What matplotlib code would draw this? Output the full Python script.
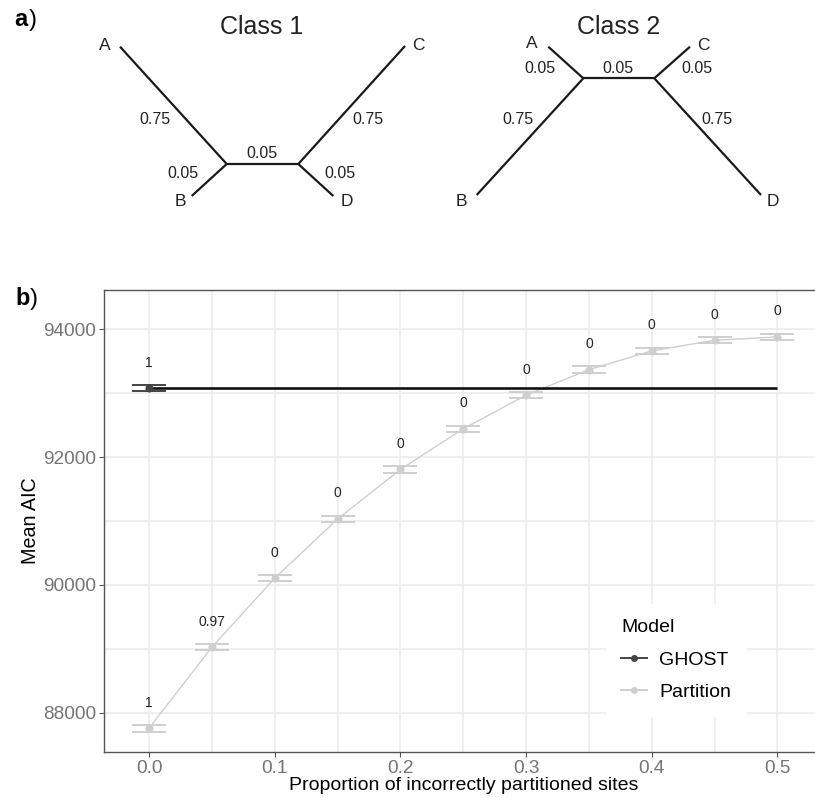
import matplotlib
matplotlib.use("Agg")
import matplotlib.pyplot as plt
from matplotlib.lines import Line2D
import numpy as np

plt.rcParams['font.family'] = ['Liberation Sans', 'DejaVu Sans']

# ---------------- data ----------------
proportions = [0.0, 0.05, 0.10, 0.15, 0.20, 0.25, 0.30, 0.35, 0.40, 0.45, 0.50]
partition_aic = [87756, 89027, 90105, 91031, 91806, 92442, 92969, 93369, 93661, 93828, 93880]
partition_se = [50, 50, 50, 50, 50, 50, 50, 50, 50, 50, 50]
partition_labels = ["1", "0.97", "0", "0", "0", "0", "0", "0", "0", "0", "0"]
ghost_x = [0.0]
ghost_aic = [93078]
ghost_se = [50]
ghost_labels = ["1"]
models = ["GHOST", "Partition"]
y_ticks = [88000, 90000, 92000, 94000]
x_ticks = [0.0, 0.1, 0.2, 0.3, 0.4, 0.5]

# tree topologies (tip/internal node layout in pixel space of panel a)
tree1_nodes = {"A": (120, 46.7), "B": (191.7, 196), "C": (405, 46), "D": (333.3, 196),
               "L": (226.7, 164), "R": (298.3, 164)}
tree2_nodes = {"A": (548.3, 46.7), "B": (476.7, 195), "C": (690, 46.7), "D": (761, 195),
               "L": (583.3, 78.3), "R": (654.3, 78.3)}
tree_edges = [("A", "L"), ("B", "L"), ("L", "R"), ("R", "C"), ("R", "D")]
tree1_lengths = ["0.75", "0.05", "0.05", "0.75", "0.05"]
tree2_lengths = ["0.05", "0.75", "0.05", "0.05", "0.75"]

W, H = 815, 798
fig = plt.figure(figsize=(W / 100, H / 100), dpi=100)

# ---------------- panel a (trees) ----------------
lay = fig.add_axes([0, 0, 1, 1])
lay.set_xlim(0, W)
lay.set_ylim(H, 0)
lay.axis("off")

tree_col = "#1a1a1a"
for nodes in (tree1_nodes, tree2_nodes):
    for a, b in tree_edges:
        lay.plot([nodes[a][0], nodes[b][0]], [nodes[a][1], nodes[b][1]],
                 color=tree_col, lw=1.6, solid_capstyle="butt")

tip_fs = 12.5
br_fs = 11.5
# Class 1 labels
lay.text(262, 27, "Class 1", fontsize=18, ha="center", va="center", color="#222222")
for t, (x, y) in {"A": (105, 45), "B": (180, 201.7), "C": (418, 45), "D": (346.7, 201.7)}.items():
    lay.text(x, y, t, fontsize=tip_fs, ha="center", va="center", color="#222222")
for lab, (x, y) in zip(tree1_lengths, [(155, 120), (183.3, 174), (261.7, 154), (368, 120), (340, 174)]):
    lay.text(x, y, lab, fontsize=br_fs, ha="center", va="center", color="#222222")
# Class 2 labels
lay.text(618.3, 27, "Class 2", fontsize=18, ha="center", va="center", color="#222222")
for t, (x, y) in {"A": (531.7, 43.3), "B": (461.7, 201.7), "C": (703.3, 45), "D": (773.3, 201.7)}.items():
    lay.text(x, y, t, fontsize=tip_fs, ha="center", va="center", color="#222222")
for lab, (x, y) in zip(tree2_lengths, [(540, 68.3), (518.3, 120), (618.3, 68.3), (696.7, 68.3), (717.3, 120)]):
    lay.text(x, y, lab, fontsize=br_fs, ha="center", va="center", color="#222222")

# panel letters
lay.text(14, 26, "a", fontsize=17, fontweight="bold", ha="left", va="baseline", color="black")
lay.text(28.5, 26, ")", fontsize=17, ha="left", va="baseline", color="black")
lay.text(15, 305, "b", fontsize=17, fontweight="bold", ha="left", va="baseline", color="black")
lay.text(30, 305, ")", fontsize=17, ha="left", va="baseline", color="black")

# ---------------- panel b ----------------
left_px, right_px, top_px, bot_px = 104, 823, 290, 752
ax = fig.add_axes([left_px / W, 1 - bot_px / H, (right_px - left_px) / W, (bot_px - top_px) / H])
ax.set_xlim(-0.0358, 0.5362)
ax.set_ylim(87386, 94614)

ax.set_xticks(x_ticks)
ax.set_xticklabels([f"{v:.1f}" for v in x_ticks])
ax.set_yticks(y_ticks)
ax.set_yticklabels([str(v) for v in y_ticks])
ax.set_xticks(np.arange(0.05, 0.55, 0.1), minor=True)
ax.set_yticks([89000, 91000, 93000], minor=True)
ax.grid(True, which="major", color="#ebebeb", lw=1.1)
ax.grid(True, which="minor", color="#ebebeb", lw=1.1)
ax.set_axisbelow(True)
ax.tick_params(which="minor", length=0)
ax.tick_params(which="major", length=3.5, width=0.8, color="#555555",
               labelsize=13.7, labelcolor="#747474", pad=2)
for s in ["left", "bottom", "top"]:
    ax.spines[s].set_color("#555555")
    ax.spines[s].set_linewidth(1.0)
ax.spines["right"].set_visible(False)

ghost_col = "#444444"
part_col = "#cfcfcf"

# partition series
ax.plot(proportions, partition_aic, color=part_col, lw=1.0, zorder=3)
ax.errorbar(proportions, partition_aic, yerr=partition_se, fmt="none", ecolor=part_col,
            elinewidth=1.4, capsize=12.5, capthick=1.4, zorder=3)
ax.plot(proportions, partition_aic, "o", color=part_col, ms=4.8, zorder=4)

# GHOST
ax.hlines(ghost_aic[0], proportions[0], proportions[-1], color="#111111", lw=1.9, zorder=5)
ax.errorbar(ghost_x, ghost_aic, yerr=ghost_se, fmt="none", ecolor=ghost_col,
            elinewidth=1.4, capsize=12.5, capthick=1.4, zorder=5)
ax.plot(ghost_x, ghost_aic, "o", color=ghost_col, ms=4.8, zorder=6)

# labels above points
label_off = 400
for x, y, s in zip(proportions, partition_aic, partition_labels):
    ax.text(x, y + label_off, s, fontsize=10, ha="center", va="center", color="#222222")
for x, y, s in zip(ghost_x, ghost_aic, ghost_labels):
    ax.text(x, y + label_off, s, fontsize=10, ha="center", va="center", color="#222222")

ax.set_ylabel("Mean AIC", fontsize=14.2, color="black", labelpad=2)
ax.set_xlabel("Proportion of incorrectly partitioned sites", fontsize=14, color="black", labelpad=0.5)

handles = [Line2D([0], [0], color=ghost_col, lw=1.4, marker="o", ms=4),
           Line2D([0], [0], color=part_col, lw=1.4, marker="o", ms=4)]
leg = ax.legend(handles, models, title="Model", loc="upper left",
                bbox_to_anchor=(596 / W, 1 - 594 / H), bbox_transform=fig.transFigure,
                fontsize=14, title_fontsize=14, frameon=True, facecolor="white",
                edgecolor="none", framealpha=1, fancybox=False,
                handlelength=1.3, handletextpad=0.65, labelspacing=0.76,
                borderpad=0.8, alignment="left")

fig.savefig("out.png", dpi=100)
